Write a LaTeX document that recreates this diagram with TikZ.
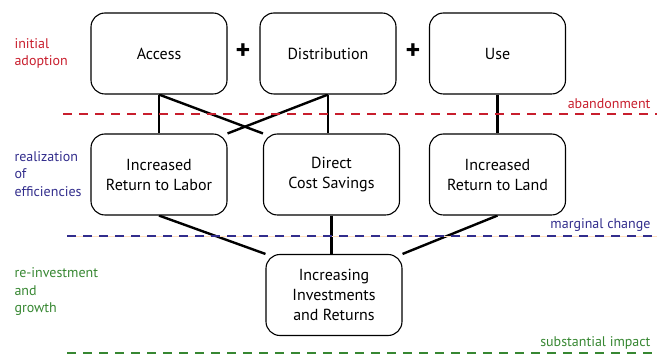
\documentclass[tikz,border=0pt]{standalone}
\usepackage{fontspec}
\setmainfont{PT Sans}
\usetikzlibrary{backgrounds}

\definecolor{stagered}{RGB}{200,30,45}
\definecolor{stageblue}{RGB}{50,45,140}
\definecolor{stagegreen}{RGB}{55,135,50}

\tikzset{
    stagebox/.style={draw, line width=1.1pt, rounded corners=14pt, fill=white,
        minimum width=136pt, minimum height=81pt, align=center,
        font=\fontsize{16}{20}\selectfont},
    link/.style={line width=2.4pt},
    threshold/.style={line width=1.2pt, dash pattern=on 9pt off 7pt},
    stagelabel/.style={align=left, anchor=west, font=\fontsize{14}{17.5}\selectfont},
    edgelabel/.style={anchor=east, font=\fontsize{14}{16}\selectfont}
}

\begin{document}
\begin{tikzpicture}[x=1pt, y=-1pt]
    \useasboundingbox (0,0) rectangle (657,355);

    % Boxes
    \node[stagebox] (acc)     at (159,53.5)  {Access};
    \node[stagebox] (dist)    at (328,53.5)  {Distribution};
    \node[stagebox] (use)     at (497.5,53.5) {Use};
    \node[stagebox] (labor)   at (159,174.5) {Increased\\Return to Labor};
    \node[stagebox] (savings) at (331.5,174.5) {Direct\\Cost Savings};
    \node[stagebox] (land)    at (497.5,174.5) {Increased\\Return to Land};
    \node[stagebox] (invest)  at (334,295)   {Increasing\\Investments\\and Returns};

    % Plus signs
    \node[font=\fontsize{28}{28}\selectfont\bfseries] (plusa) at (243,52) {+};
    \node[font=\fontsize{28}{28}\selectfont\bfseries] (plusb) at (413,52) {+};

    % Stage labels on the left
    \node[stagelabel, text=stagered]   (initial) at (11,53.5) {initial\\adoption};
    \node[stagelabel, text=stageblue]  (realize) at (11,174)  {realization\\of\\efficiencies};
    \node[stagelabel, text=stagegreen] (reinvest) at (11,292) {re-investment\\and\\growth};

    % Thresholds
    \draw[threshold, stagered]   (63,114) -- (657,114);
    \draw[orange!25, line width=0.6pt] (67,236) -- (657,236);
    \draw[threshold, stageblue]  (67,236) -- (657,236);
    \draw[threshold, stagegreen] (67,353) -- (657,353);
    \node[edgelabel, text=stagered]   (abandon)  at (654,104) {abandonment};
    \node[edgelabel, text=stageblue]  (marginal) at (654,225) {marginal change};
    \node[edgelabel, text=stagegreen] (impact)   at (654,343) {substantial impact};

    % Links behind the boxes
    \begin{scope}[on background layer]
        \draw[link] (acc.south) -- (labor.north);
        \draw[link] (acc.south) -- (savings.north west);
        \draw[link] (dist.south) -- (labor.north east);
        \draw[link] (dist.south) -- (dist.south |- savings.north);
        \draw[link] (use.south) -- (land.north);
        \draw[link] (labor.south) -- (invest.north west);
        \draw[link] (savings.south) -- (savings.south |- invest.north);
        \draw[link] (land.south) -- (invest.north east);
    \end{scope}
\end{tikzpicture}
\end{document}
